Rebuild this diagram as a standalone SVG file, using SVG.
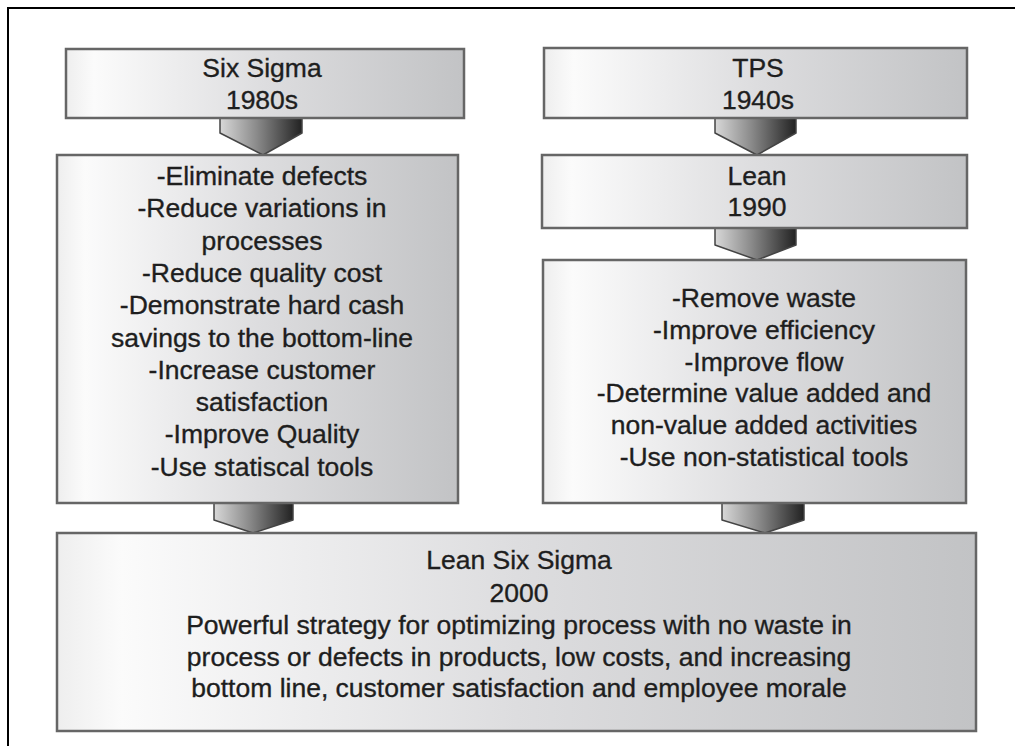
<svg xmlns="http://www.w3.org/2000/svg" width="1015" height="746" viewBox="0 0 1015 746">
  <defs>
    <linearGradient id="boxFill" x1="0" y1="0" x2="1" y2="0">
      <stop offset="0" stop-color="#eeeeee"/>
      <stop offset="0.07" stop-color="#fbfbfb"/>
      <stop offset="0.5" stop-color="#dddddf"/>
      <stop offset="1" stop-color="#c2c3c5"/>
    </linearGradient>
    <linearGradient id="arrowFill" x1="0" y1="0" x2="1" y2="0">
      <stop offset="0" stop-color="#d8d8d8"/>
      <stop offset="0.45" stop-color="#8a8a8a"/>
      <stop offset="1" stop-color="#222222"/>
    </linearGradient>
  </defs>
  <style>
    .box { fill: url(#boxFill); stroke: #666666; stroke-width: 2.5; }
    .arrow { fill: url(#arrowFill); stroke: #444444; stroke-width: 1.5; stroke-linejoin: round; }
    .label { font-family: "Liberation Sans", Arial, sans-serif; font-size: 26.5px; fill: #1e1e1e; stroke: #1e1e1e; stroke-width: 0.35; text-anchor: middle; }
  </style>

  <rect x="0" y="0" width="1015" height="746" fill="#ffffff"/>
  <!-- outer frame -->
  <rect x="8" y="8" width="1030" height="760" fill="none" stroke="#000000" stroke-width="2"/>

  <!-- connectors -->
  <g id="connectors">
    <polygon class="arrow" points="220,118 302,118 302,133 263,155 220,133"/>
    <polygon class="arrow" points="715,118 796,118 796,133 757,155 715,133"/>
    <polygon class="arrow" points="715,228 796,228 796,245 757,260 715,245"/>
    <polygon class="arrow" points="214,503 293,503 293,520 253,533 214,520"/>
    <polygon class="arrow" points="722,503 804,503 804,520 765,533 722,520"/>
  </g>

  <g id="six-sigma">
    <rect class="box" x="66" y="49" width="398" height="69"/>
    <text class="label" x="262" y="77">Six Sigma</text>
    <text class="label" x="262" y="109">1980s</text>
  </g>

  <g id="six-sigma-goals">
    <rect class="box" x="57" y="155" width="401" height="348"/>
    <text class="label" x="262" y="185">-Eliminate defects</text>
    <text class="label" x="262" y="217.3">-Reduce variations in</text>
    <text class="label" x="262" y="249.6">processes</text>
    <text class="label" x="262" y="281.9">-Reduce quality cost</text>
    <text class="label" x="262" y="314.2">-Demonstrate hard cash</text>
    <text class="label" x="262" y="346.5">savings to the bottom-line</text>
    <text class="label" x="262" y="378.8">-Increase customer</text>
    <text class="label" x="262" y="411.1">satisfaction</text>
    <text class="label" x="262" y="443.4">-Improve Quality</text>
    <text class="label" x="262" y="475.7">-Use statiscal tools</text>
  </g>

  <g id="tps">
    <rect class="box" x="544" y="48" width="423" height="70"/>
    <text class="label" x="758" y="77">TPS</text>
    <text class="label" x="758" y="109">1940s</text>
  </g>

  <g id="lean">
    <rect class="box" x="542" y="155" width="425" height="73"/>
    <text class="label" x="757" y="185">Lean</text>
    <text class="label" x="757" y="216">1990</text>
  </g>

  <g id="lean-goals">
    <rect class="box" x="543" y="260" width="423" height="243"/>
    <text class="label" x="764" y="307">-Remove waste</text>
    <text class="label" x="764" y="339">-Improve efficiency</text>
    <text class="label" x="764" y="370.5">-Improve flow</text>
    <text class="label" x="764" y="402">-Determine value added and</text>
    <text class="label" x="764" y="434">non-value added activities</text>
    <text class="label" x="764" y="465.5">-Use non-statistical tools</text>
  </g>

  <g id="lean-six-sigma">
    <rect class="box" x="57" y="533" width="919" height="198"/>
    <text class="label" x="519" y="569">Lean Six Sigma</text>
    <text class="label" x="519" y="601.5">2000</text>
    <text class="label" x="519" y="634">Powerful strategy for optimizing process with no waste in</text>
    <text class="label" x="519" y="665.5">process or defects in products, low costs, and increasing</text>
    <text class="label" x="519" y="697">bottom line, customer satisfaction and employee morale</text>
  </g>
</svg>
